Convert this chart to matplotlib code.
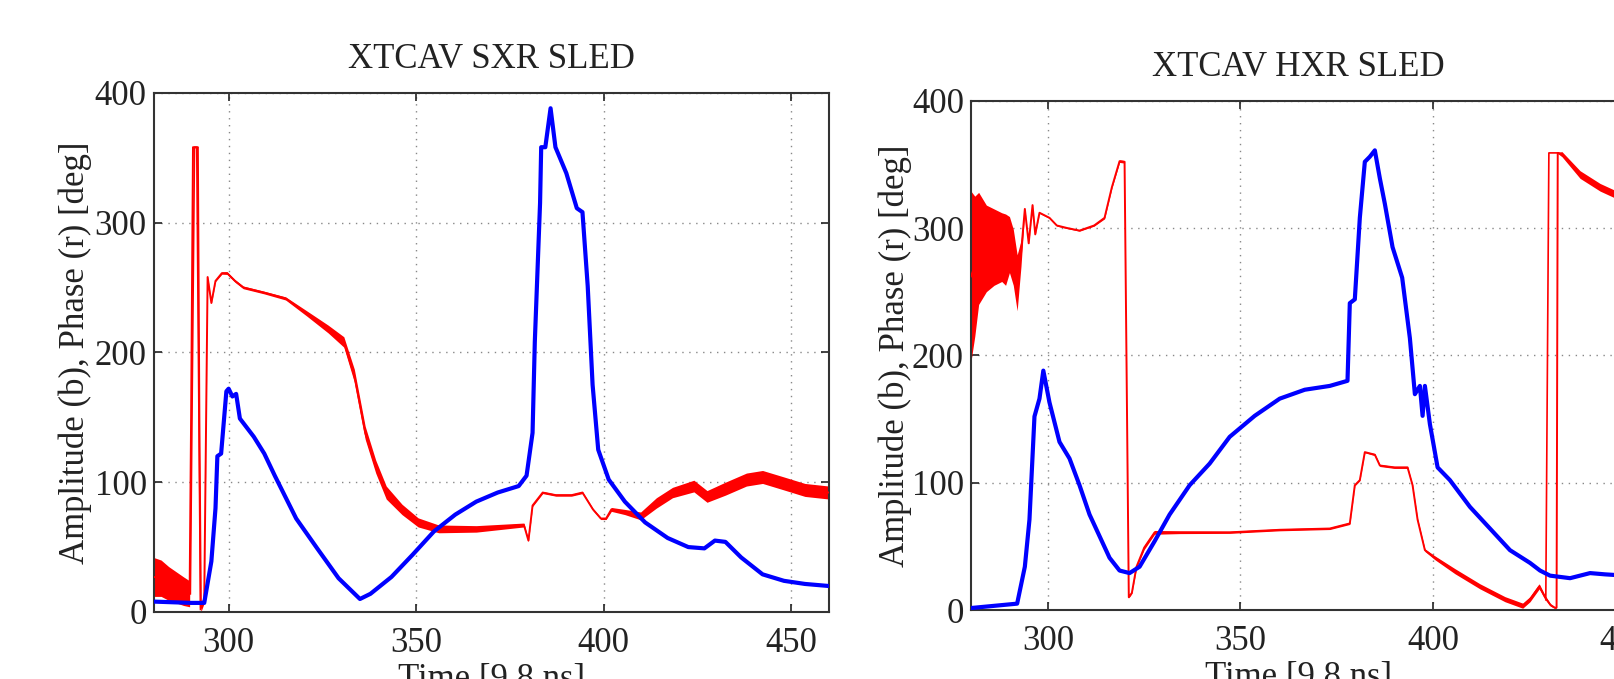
import matplotlib
matplotlib.use("Agg")
import matplotlib.pyplot as plt
import numpy as np

plt.rcParams['font.family'] = ['Liberation Serif', 'DejaVu Serif']

# ---------------- data: left panel (XTCAV SXR SLED) ----------------
sxr_blue_x = [280, 285, 290, 293.5, 295.4, 296.5, 297, 298, 299.4, 300, 301, 302, 303,
              306.7, 309.5, 312.3, 318, 323.6, 329.3, 335, 337.8, 343.4, 349, 354.7,
              360.4, 366, 371.7, 377.3, 379.4, 381, 381.6, 383, 383.3, 384.4, 385.8,
              387.1, 390, 392.8, 394.3, 395.7, 397, 398.5, 401.3, 405.6, 411, 417,
              422.5, 426.8, 429.6, 432.4, 436.6, 442.3, 448, 453.6, 460]
sxr_blue_y = [8, 7.5, 7, 7, 39, 80, 120, 122, 170, 172, 166, 168, 149,
              135, 122, 105, 72, 49, 26, 10, 14, 27, 44, 62,
              75, 85, 92, 97, 105, 138, 208, 315, 358, 358, 388,
              358, 338, 311, 308, 251, 175, 125, 102, 85, 69, 57,
              50, 49, 55, 54, 42, 29, 24, 21.6, 20]

sxr_red_x = [280, 282, 284, 286, 288, 289.6, 290, 290.5, 291.8, 292.2, 292.6, 293.5,
             294.4, 295.4, 296.5, 298.2, 299.6, 301.7, 303.9, 309.5, 315.2, 320.8,
             326.5, 330.7, 333.5, 336.4, 339.2, 342, 346.2, 350.5, 356, 366, 378.7,
             379.9, 381, 383.7, 387.2, 391.4, 394.3, 397.1, 399.2, 400.6, 402, 405.6,
             409.8, 414, 418.3, 424, 427.5, 432.4, 438, 442.3, 448, 453.6, 460]
sxr_red_y = [27, 26, 22, 19, 16, 14, 150, 358, 358, 150, 3, 10,
             258, 238, 255, 261, 261, 255, 250, 246, 241.5, 230,
             218, 208, 182, 138, 112, 92, 79, 69, 64, 64, 67,
             55, 82, 92, 90, 90, 92, 79, 72, 72, 79, 77,
             74, 84, 92, 97, 89, 95, 102, 104, 99, 94, 92]
# half width of the bundle of overlapping phase traces
sxr_red_spread = [15, 14, 13, 12, 11, 10, 0.5, 0.5, 0.5, 0.5, 3, 3,
                  0.5, 0.5, 0.5, 0.8, 1, 1, 1, 1, 1.2, 2,
                  3, 4, 5, 5, 5, 5, 4, 3.5, 3, 2.5, 1.5,
                  0.8, 0.8, 0.8, 0.8, 0.8, 0.8, 0.8, 0.8, 0.8, 1.5, 2,
                  3, 4, 4, 4.5, 4.5, 5, 5, 5, 5, 5, 5]
# secondary phase trace of the narrow spike (appears as a double line)
sxr_red2_x = [289.8, 290.9, 291.5, 292.5]
sxr_red2_y = [14, 358, 358, 2]

# ---------------- data: right panel (XTCAV HXR SLED) ----------------
hxr_blue_x = [280.5, 292, 294, 295.2, 296.5, 297.8, 298.8, 300.4, 303, 305.6, 308.2,
              310.8, 313.4, 316, 318.6, 321.2, 323.8, 327.7, 331.6, 336.8, 342, 347.2,
              353.7, 360.2, 366.7, 373.2, 377.8, 378.4, 379.7, 381, 382.3, 383.6, 384.9,
              386.2, 387.5, 389.5, 392, 394, 395.3, 396.6, 397.3, 397.9, 399.2, 401.2,
              404.4, 409.6, 414.8, 420, 425.2, 427.8, 430.4, 435.6, 440.8, 444.7, 450]
hxr_blue_y = [1.7, 5, 34, 71, 152, 166, 188, 163, 132, 119, 98,
              75, 58, 41, 31, 29, 34, 54, 75, 98, 115, 136,
              152.5, 166, 173, 176, 180, 241, 244, 308, 352, 356, 361,
              339, 319, 285, 261, 213.5, 169.5, 176, 152.5, 176, 146, 112,
              102, 81, 64, 47, 37, 31, 27, 25, 29, 28, 27]

hxr_red_x = [280, 281, 282, 284, 286, 288, 289, 290, 291, 292, 293, 294, 295, 296,
             296.7, 297.8, 300.4, 302.3, 305, 308.2, 312, 314.7, 316.6, 318.6, 319.9,
             321, 321.8, 323, 325, 327.7, 334.2, 347.2, 360.2, 373.2, 378.4, 379.7,
             381, 382.3, 384.9, 386.2, 390, 393.4, 394.7, 396, 397.9, 400.5, 405.7,
             412.2, 418.7, 423.3, 425.2, 427.6, 429.1, 430.5, 431.7, 432.1, 432.4,
             433.5, 438.2, 443.4, 447, 450]
hxr_red_y = [262, 270, 284, 284, 285, 285, 283, 287, 277, 257, 280, 315, 288, 318,
             295, 312, 308, 302, 300, 298, 302, 308, 332, 352.5, 352,
             10, 13.5, 34, 49, 61, 61, 61, 63, 64, 68, 98,
             102, 124, 122, 113.5, 112, 112, 98, 71, 47, 41, 30.5,
             18.6, 8.5, 3.4, 8.5, 18.6, 10, 4, 1.7, 2, 359,
             358, 342, 332, 327, 325]
hxr_red_spread = [67, 55, 44, 34, 30, 27, 28, 22, 22, 22, 10, 0.5, 0.5, 0.5,
                  0.5, 0.5, 0.5, 0.5, 0.5, 0.5, 0.5, 0.8, 0.8, 1, 1,
                  0.5, 0.5, 1, 1.5, 1.5, 1, 0.8, 0.8, 0.8, 0.8, 0.5,
                  0.5, 0.5, 0.8, 0.8, 0.8, 0.8, 0.5, 0.8, 1, 1.5, 2,
                  2, 2, 2, 2, 2, 1.5, 1, 0.5, 0.5, 0.5,
                  2, 3, 3, 3, 3]
# secondary phase trace wrapping earlier at the right end
hxr_red2_x = [429.3, 430.1, 432.6]
hxr_red2_y = [8, 359, 359]

titles = ["XTCAV SXR SLED", "XTCAV HXR SLED"]
xlabel = "Time [9.8 ns]"
ylabel = "Amplitude (b), Phase (r) [deg]"
xticks = [300, 350, 400, 450]
yticks = [0, 100, 200, 300, 400]

# ---------------- figure ----------------
fig = plt.figure(figsize=(16.15, 6.79), dpi=100)
ax1 = fig.add_axes([0.0951, 0.0987, 0.4182, 0.7648])
ax2 = fig.add_axes([0.6012, 0.1016, 0.4053, 0.7501])

FS = 25
txt = '#222222'

def style(ax, xlim, title, ylabelpad):
    ax.set_xlim(*xlim)
    ax.set_ylim(0, 400)
    ax.set_xticks(xticks)
    ax.set_yticks(yticks)
    ax.grid(True, color='#888888', linestyle=(0, (1, 4)), linewidth=1.0)
    ax.tick_params(direction='in', length=6, width=1.2, top=True, right=True,
                   labelsize=FS, colors=txt)
    ax.tick_params(axis='x', pad=11)
    ax.tick_params(axis='y', pad=5)
    for s in ax.spines.values():
        s.set_linewidth(1.5)
        s.set_color('#333333')
    ax.set_title(title, fontsize=FS, color=txt, pad=18)
    ax.set_xlabel(xlabel, fontsize=FS, color=txt, labelpad=2)
    ax.set_ylabel(ylabel, fontsize=FS, color=txt, labelpad=ylabelpad)
    ax.set_axisbelow(True)

def draw_red(ax, x, y, spread):
    x = np.asarray(x, float); y = np.asarray(y, float); s = np.asarray(spread, float)
    ax.fill_between(x, y - s, y + s, color='red', linewidth=0, zorder=2)
    ax.plot(x, y, color='red', linewidth=1.4, zorder=3)

draw_red(ax1, sxr_red_x, sxr_red_y, sxr_red_spread)
ax1.plot(sxr_red2_x, sxr_red2_y, color='red', linewidth=1.2, zorder=3)
ax1.plot(sxr_blue_x, sxr_blue_y, color='blue', linewidth=3.0, zorder=4)
style(ax1, (280, 460), titles[0], 2)

draw_red(ax2, hxr_red_x, hxr_red_y, hxr_red_spread)
ax2.plot(hxr_red2_x, hxr_red2_y, color='red', linewidth=1.2, zorder=3)
ax2.plot(hxr_blue_x, hxr_blue_y, color='blue', linewidth=3.0, zorder=4)
style(ax2, (280, 450), titles[1], 0)

fig.savefig("out.png", dpi=100)
